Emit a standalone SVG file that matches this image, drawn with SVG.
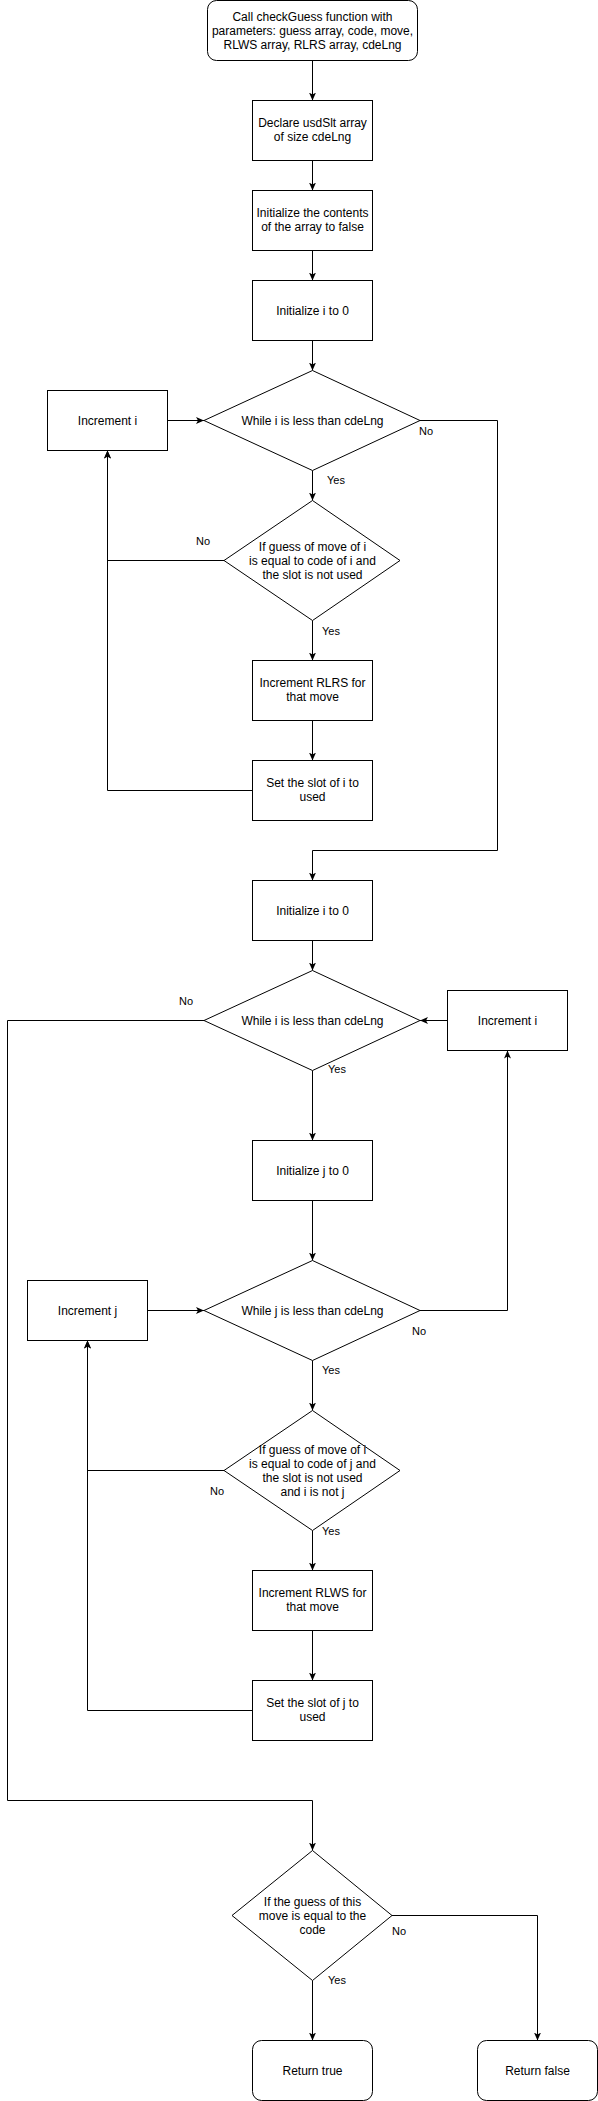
<svg xmlns="http://www.w3.org/2000/svg" width="598" height="2101" viewBox="0 0 598 2101">
<style>
.n{fill:#fff;stroke:#000;stroke-width:1}
.t{font-family:"Liberation Sans",Arial,sans-serif;font-size:12px;fill:#000;text-anchor:middle}
.l{font-family:"Liberation Sans",Arial,sans-serif;font-size:11px;fill:#000;text-anchor:middle}
.e{fill:none;stroke:#000;stroke-width:1}
</style>
<defs>
<marker id="a" viewBox="0 0 8 8" refX="8" refY="4" markerWidth="8" markerHeight="8" markerUnits="userSpaceOnUse" orient="auto">
<path d="M0,0.5 L8,4 L0,7.5 L2,4 Z" fill="#000"/>
</marker>
</defs>
<rect width="598" height="2101" fill="#fff"/>
<g id="connectors">
<path class="e" marker-end="url(#a)" d="M312.5,60.5 V100.5"/>
<path class="e" marker-end="url(#a)" d="M312.5,160.5 V190.5"/>
<path class="e" marker-end="url(#a)" d="M312.5,250.5 V280.5"/>
<path class="e" marker-end="url(#a)" d="M312.5,340.5 V370.5"/>
<path class="e" marker-end="url(#a)" d="M167.5,420.5 H204"/>
<path class="e" marker-end="url(#a)" d="M312.5,470.5 V500.5"/>
<path class="e" marker-end="url(#a)" d="M312.5,620.5 V660.5"/>
<path class="e" marker-end="url(#a)" d="M312.5,720.5 V760.5"/>
<path class="e" marker-end="url(#a)" d="M224,560.5 H107.5 V450.5"/>
<path class="e" marker-end="url(#a)" d="M252.5,790.5 H107.5 V450.5"/>
<path class="e" marker-end="url(#a)" d="M420,420.5 H497.5 V850.5 H312.5 V880.5"/>
<path class="e" marker-end="url(#a)" d="M312.5,940.5 V970.5"/>
<path class="e" marker-end="url(#a)" d="M447.5,1020.5 H420"/>
<path class="e" marker-end="url(#a)" d="M312.5,1070.5 V1140.5"/>
<path class="e" marker-end="url(#a)" d="M312.5,1200.5 V1260.5"/>
<path class="e" marker-end="url(#a)" d="M147.5,1310.5 H204"/>
<path class="e" marker-end="url(#a)" d="M420,1310.5 H507.5 V1050.5"/>
<path class="e" marker-end="url(#a)" d="M312.5,1360.5 V1410.5"/>
<path class="e" marker-end="url(#a)" d="M312.5,1530.5 V1570.5"/>
<path class="e" marker-end="url(#a)" d="M312.5,1630.5 V1680.5"/>
<path class="e" marker-end="url(#a)" d="M224,1470.5 H87.5 V1340.5"/>
<path class="e" marker-end="url(#a)" d="M252.5,1710.5 H87.5 V1340.5"/>
<path class="e" marker-end="url(#a)" d="M204,1020.5 H7.5 V1800.5 H312.5 V1850.5"/>
<path class="e" marker-end="url(#a)" d="M312.5,1980.5 V2040.5"/>
<path class="e" marker-end="url(#a)" d="M392,1915.5 H537.5 V2040.5"/>
<text class="l" x="426" y="435">No</text>
<text class="l" x="336" y="484">Yes</text>
<text class="l" x="203" y="545">No</text>
<text class="l" x="331" y="635">Yes</text>
<text class="l" x="186" y="1005">No</text>
<text class="l" x="337" y="1073">Yes</text>
<text class="l" x="419" y="1335">No</text>
<text class="l" x="331" y="1374">Yes</text>
<text class="l" x="217" y="1495">No</text>
<text class="l" x="331" y="1535">Yes</text>
<text class="l" x="399" y="1935">No</text>
<text class="l" x="337" y="1984">Yes</text>
</g>
<g id="start">
<rect class="n" x="207.5" y="0.5" width="210" height="60" rx="9" ry="9"/>
<text class="t" x="312.5" y="21">Call checkGuess function with</text>
<text class="t" x="312.5" y="35">parameters: guess array, code, move,</text>
<text class="t" x="312.5" y="49">RLWS array, RLRS array, cdeLng</text>
</g>
<g id="declare">
<rect class="n" x="252.5" y="100.5" width="120" height="60"/>
<text class="t" x="312.5" y="127">Declare usdSlt array</text>
<text class="t" x="312.5" y="141">of size cdeLng</text>
</g>
<g id="initContents">
<rect class="n" x="252.5" y="190.5" width="120" height="60"/>
<text class="t" x="312.5" y="217">Initialize the contents</text>
<text class="t" x="312.5" y="231">of the array to false</text>
</g>
<g id="initI1">
<rect class="n" x="252.5" y="280.5" width="120" height="60"/>
<text class="t" x="312.5" y="315">Initialize i to 0</text>
</g>
<g id="while1">
<polygon class="n" points="312.5,370.5 420,420.5 312.5,470.5 204,420.5"/>
<text class="t" x="312.5" y="425">While i is less than cdeLng</text>
</g>
<g id="incI1">
<rect class="n" x="47.5" y="390.5" width="120" height="60"/>
<text class="t" x="107.5" y="425">Increment i</text>
</g>
<g id="if1">
<polygon class="n" points="312.5,500.5 400,560.5 312.5,620.5 224,560.5"/>
<text class="t" x="312.5" y="551">If guess of move of i</text>
<text class="t" x="312.5" y="565">is equal to code of i and</text>
<text class="t" x="312.5" y="579">the slot is not used</text>
</g>
<g id="incRLRS">
<rect class="n" x="252.5" y="660.5" width="120" height="60"/>
<text class="t" x="312.5" y="687">Increment RLRS for</text>
<text class="t" x="312.5" y="701">that move</text>
</g>
<g id="setSlotI">
<rect class="n" x="252.5" y="760.5" width="120" height="60"/>
<text class="t" x="312.5" y="787">Set the slot of i to</text>
<text class="t" x="312.5" y="801">used</text>
</g>
<g id="initI2">
<rect class="n" x="252.5" y="880.5" width="120" height="60"/>
<text class="t" x="312.5" y="915">Initialize i to 0</text>
</g>
<g id="while2">
<polygon class="n" points="312.5,970.5 420,1020.5 312.5,1070.5 204,1020.5"/>
<text class="t" x="312.5" y="1025">While i is less than cdeLng</text>
</g>
<g id="incI2">
<rect class="n" x="447.5" y="990.5" width="120" height="60"/>
<text class="t" x="507.5" y="1025">Increment i</text>
</g>
<g id="initJ">
<rect class="n" x="252.5" y="1140.5" width="120" height="60"/>
<text class="t" x="312.5" y="1175">Initialize j to 0</text>
</g>
<g id="whileJ">
<polygon class="n" points="312.5,1260.5 420,1310.5 312.5,1360.5 204,1310.5"/>
<text class="t" x="312.5" y="1315">While j is less than cdeLng</text>
</g>
<g id="incJ">
<rect class="n" x="27.5" y="1280.5" width="120" height="60"/>
<text class="t" x="87.5" y="1315">Increment j</text>
</g>
<g id="if2">
<polygon class="n" points="312.5,1410.5 400,1470.5 312.5,1530.5 224,1470.5"/>
<text class="t" x="312.5" y="1454">If guess of move of i</text>
<text class="t" x="312.5" y="1468">is equal to code of j and</text>
<text class="t" x="312.5" y="1482">the slot is not used</text>
<text class="t" x="312.5" y="1496">and i is not j</text>
</g>
<g id="incRLWS">
<rect class="n" x="252.5" y="1570.5" width="120" height="60"/>
<text class="t" x="312.5" y="1597">Increment RLWS for</text>
<text class="t" x="312.5" y="1611">that move</text>
</g>
<g id="setSlotJ">
<rect class="n" x="252.5" y="1680.5" width="120" height="60"/>
<text class="t" x="312.5" y="1707">Set the slot of j to</text>
<text class="t" x="312.5" y="1721">used</text>
</g>
<g id="ifFinal">
<polygon class="n" points="312.5,1850.5 392,1915.5 312.5,1980.5 232,1915.5"/>
<text class="t" x="312.5" y="1906">If the guess of this</text>
<text class="t" x="312.5" y="1920">move is equal to the</text>
<text class="t" x="312.5" y="1934">code</text>
</g>
<g id="returnTrue">
<rect class="n" x="252.5" y="2040.5" width="120" height="60" rx="9" ry="9"/>
<text class="t" x="312.5" y="2075">Return true</text>
</g>
<g id="returnFalse">
<rect class="n" x="477.5" y="2040.5" width="120" height="60" rx="9" ry="9"/>
<text class="t" x="537.5" y="2075">Return false</text>
</g>
</svg>
